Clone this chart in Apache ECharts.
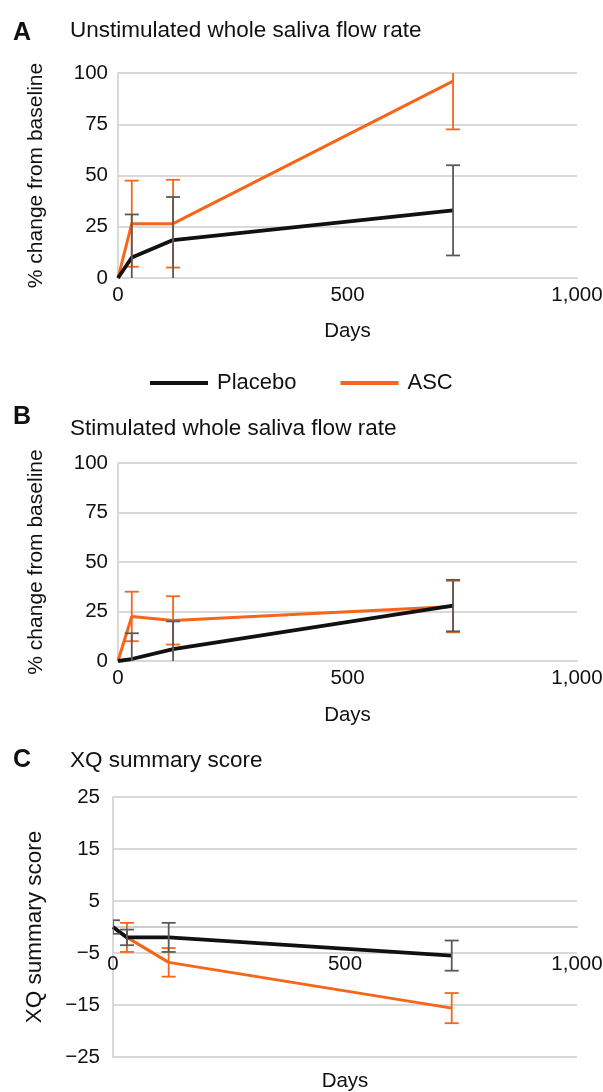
<!DOCTYPE html>
<html>
<head>
<meta charset="utf-8">
<script src="https://cdn.jsdelivr.net/npm/echarts@6/dist/echarts.min.js"></script>
<style>
html,body{margin:0;padding:0;background:#fff;}
#chart{width:603px;height:1092px;}
</style>
</head>
<body>
<div id="chart"></div>
<script>
// ---- data ----
var days = [0, 30, 120, 730];
var xTicks = [0, 500, 1000];

// Panel A: Unstimulated whole saliva flow rate (% change from baseline)
var placeboA = [0, 10, 18.5, 33];
var placeboAErr = [0, 21, 21, 22];
var ascA = [0, 26.5, 26.5, 96];
var ascAErr = [0, 21, 21.4, 23.5];

// Panel B: Stimulated whole saliva flow rate (% change from baseline)
var placeboB = [0, 1, 6, 28];
var placeboBErr = [0, 13, 14, 13];
var ascB = [0, 22.5, 20.5, 27.5];
var ascBErr = [0, 12.5, 12.2, 13];

// Panel C: XQ summary score
var placeboC = [0, -2, -2, -5.5];
var placeboCErr = [1.3, 1.5, 2.8, 2.9];
var ascC = [0, -2, -6.8, -15.6];
var ascCErr = [0, 2.8, 2.75, 2.9];

var panelTitles = ['Unstimulated whole saliva flow rate', 'Stimulated whole saliva flow rate', 'XQ summary score'];
var panelLetters = ['A', 'B', 'C'];
var yNames = ['% change from baseline', '% change from baseline', 'XQ summary score'];
var seriesNames = ['Placebo', 'ASC'];

// ---- styles ----
var FONT = '"Liberation Sans", Arial, Helvetica, sans-serif';
var BLACK = '#111111';
var ORANGE = '#F5661A';
var ERRGRAY = '#5a5a5a';
var GRID = '#d9d9d9';

function pts(xs, ys) { return xs.map(function (x, i) { return [x, ys[i]]; }); }
function errPts(xs, ys, es) { return xs.map(function (x, i) { return [x, ys[i], es[i]]; }); }
function fmtX(v) { return String(v).replace(/\B(?=(\d{3})+(?!\d))/g, ','); }
function fmtY(v) { return String(v).replace('-', '\u2212'); }

function errSeries(name, idx, data, color, z) {
  return {
    name: name, type: 'custom', xAxisIndex: idx, yAxisIndex: idx, z: z, clip: true,
    data: data, silent: true,
    encode: { x: 0, y: 1 },
    renderItem: function (params, api) {
      var x = api.value(0), y = api.value(1), e = api.value(2);
      if (!e) return null;
      var top = api.coord([x, y + e]);
      var bot = api.coord([x, y - e]);
      var hw = 7;
      var st = { stroke: color, lineWidth: 1.8 };
      return {
        type: 'group',
        children: [
          { type: 'line', shape: { x1: top[0], y1: top[1], x2: bot[0], y2: bot[1] }, style: st },
          { type: 'line', shape: { x1: top[0] - hw, y1: top[1], x2: top[0] + hw, y2: top[1] }, style: st },
          { type: 'line', shape: { x1: bot[0] - hw, y1: bot[1], x2: bot[0] + hw, y2: bot[1] }, style: st }
        ]
      };
    }
  };
}

function lineSeries(name, idx, data, color, width, z) {
  return {
    name: name, type: 'line', xAxisIndex: idx, yAxisIndex: idx, z: z,
    data: data, symbol: 'none', color: color,
    lineStyle: { color: color, width: width }, silent: true, animation: false
  };
}

var grids = [
  { left: 118, right: 26, top: 73, height: 205, outerBoundsMode: 'none', containLabel: false },
  { left: 118, right: 26, top: 463, height: 198, outerBoundsMode: 'none', containLabel: false },
  { left: 113, right: 26, top: 797, height: 260, outerBoundsMode: 'none', containLabel: false }
];

var yRanges = [
  { min: 0, max: 100, interval: 25 },
  { min: 0, max: 100, interval: 25 },
  { min: -25, max: 25, interval: 10 }
];

var xAxes = [0, 1, 2].map(function (i) {
  return {
    type: 'value', gridIndex: i, min: 0, max: 1000, interval: 500,
    name: 'Days', nameLocation: 'middle', nameGap: i === 2 ? 14 : (i === 0 ? 43 : 44),
    nameTextStyle: { fontFamily: FONT, fontSize: 20.5, color: BLACK },
    axisLine: { show: true, onZero: true, lineStyle: { color: i === 2 ? '#cfcfcf' : GRID, width: 2 } },
    axisTick: { show: false },
    splitLine: { show: false },
    axisLabel: { fontFamily: FONT, fontSize: 20.5, color: BLACK, margin: i === 2 ? -103 : 7, formatter: fmtX }
  };
});

var yAxes = [0, 1, 2].map(function (i) {
  return {
    type: 'value', gridIndex: i, min: yRanges[i].min, max: yRanges[i].max, interval: yRanges[i].interval,
    name: yNames[i], nameLocation: 'middle', nameRotate: 90, nameGap: i === 2 ? 67 : 71,
    nameTextStyle: { fontFamily: FONT, fontSize: i === 2 ? 22.5 : 21, color: BLACK },
    axisLine: { show: true, lineStyle: { color: GRID, width: 2 } },
    axisTick: { show: false },
    splitLine: { show: true, lineStyle: { color: GRID, width: 2 } },
    axisLabel: { fontFamily: FONT, fontSize: 20.5, color: BLACK, margin: i === 2 ? 13 : 10, formatter: fmtY }
  };
});

var series = [
  // Panel A
  lineSeries('ASC', 0, pts(days, ascA), ORANGE, 3, 2),
  errSeries('ASC err A', 0, errPts(days, ascA, ascAErr), ORANGE, 3),
  lineSeries('Placebo', 0, pts(days, placeboA), BLACK, 3.8, 4),
  errSeries('Placebo err A', 0, errPts(days, placeboA, placeboAErr), ERRGRAY, 5),
  // Panel B
  lineSeries('ASC', 1, pts(days, ascB), ORANGE, 3, 2),
  errSeries('ASC err B', 1, errPts(days, ascB, ascBErr), ORANGE, 3),
  lineSeries('Placebo', 1, pts(days, placeboB), BLACK, 3.8, 4),
  errSeries('Placebo err B', 1, errPts(days, placeboB, placeboBErr), ERRGRAY, 5),
  // Panel C
  lineSeries('ASC', 2, pts(days, ascC), ORANGE, 3, 2),
  errSeries('ASC err C', 2, errPts(days, ascC, ascCErr), ORANGE, 3),
  lineSeries('Placebo', 2, pts(days, placeboC), BLACK, 3.8, 4),
  errSeries('Placebo err C', 2, errPts(days, placeboC, placeboCErr), ERRGRAY, 5)
];

var letterTops = [21, 405, 748];
var titleTops = [19, 417, 749];
var titles = [];
for (var i = 0; i < 3; i++) {
  titles.push({ text: panelLetters[i], left: 13, top: letterTops[i], padding: 0,
    textStyle: { fontFamily: FONT, fontSize: 25, fontWeight: 'bold', color: BLACK } });
  titles.push({ text: panelTitles[i], left: 70, top: titleTops[i], padding: 0,
    textStyle: { fontFamily: FONT, fontSize: 22.5, fontWeight: 'normal', color: BLACK } });
}

var chart = echarts.init(document.getElementById('chart'), null, { renderer: 'canvas' });
chart.setOption({
  animation: false,
  backgroundColor: '#ffffff',
  title: titles,
  legend: {
    data: [
      { name: seriesNames[0], icon: 'rect', itemStyle: { color: BLACK } },
      { name: seriesNames[1], icon: 'rect', itemStyle: { color: ORANGE } }
    ],
    left: 150, top: 372, padding: 0,
    itemWidth: 58, itemHeight: 4, itemGap: 44,
    selectedMode: false,
    textStyle: { fontFamily: FONT, fontSize: 22, color: BLACK, padding: [0, 0, 0, 4] }
  },
  grid: grids,
  xAxis: xAxes,
  yAxis: yAxes,
  series: series
});
</script>
</body>
</html>
